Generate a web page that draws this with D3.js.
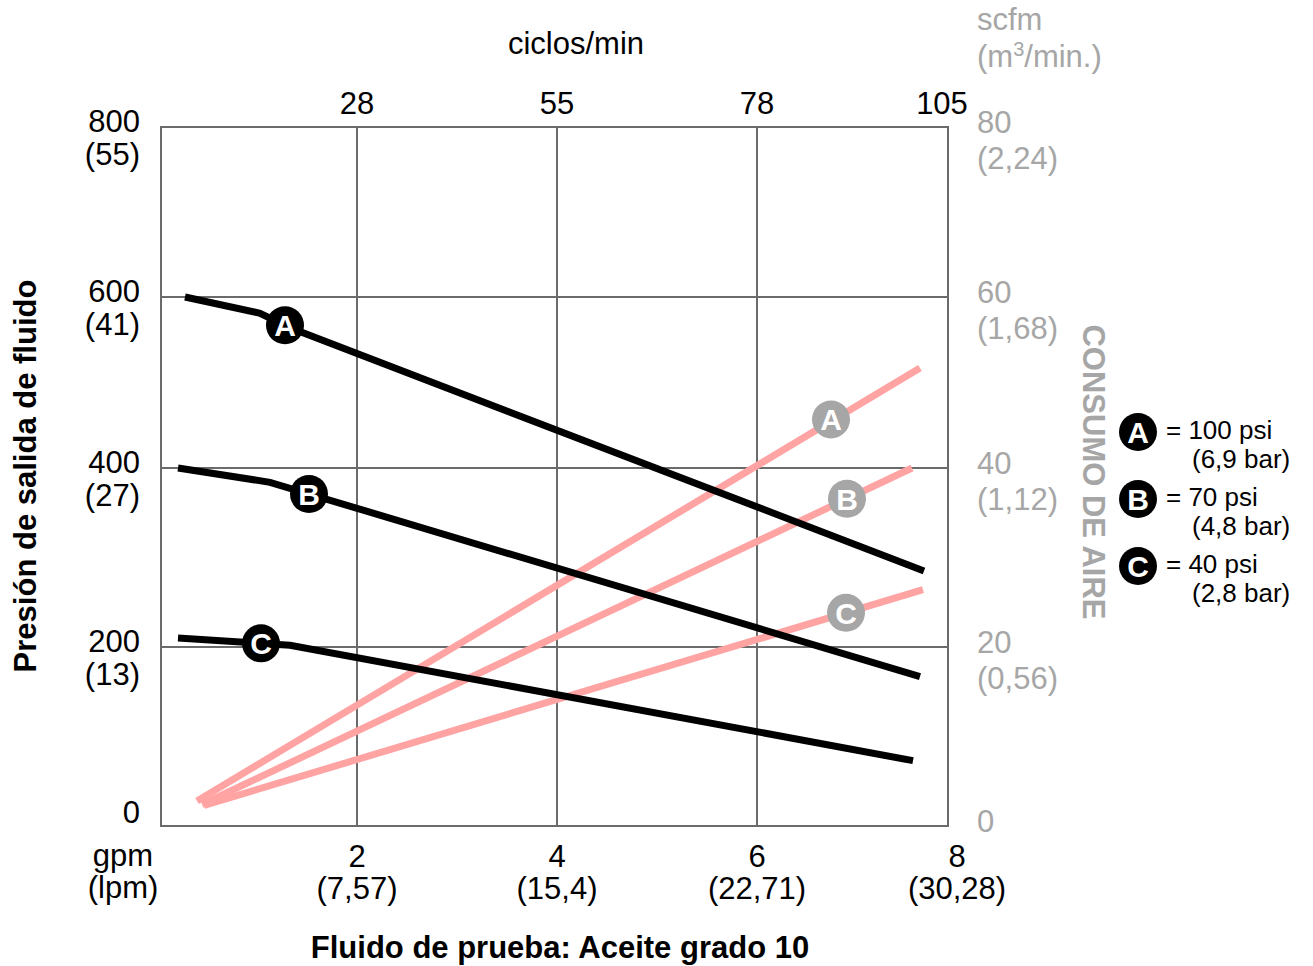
<!DOCTYPE html>
<html>
<head>
<meta charset="utf-8">
<script src="https://cdn.jsdelivr.net/npm/d3@7"></script>
<style>
  body { margin: 0; background: #fff; }
  text { font-family: "Liberation Sans", Arial, Helvetica, sans-serif; }
</style>
</head>
<body>
<svg width="1313" height="966"></svg>
<script>
// axis ticks and labels
var gpmTicks = [2, 4, 6, 8];
var lpmLabels = ["(7,57)", "(15,4)", "(22,71)", "(30,28)"];
var cycleLabels = ["28", "55", "78", "105"];
var psiTicks = [0, 200, 400, 600, 800];
var barLabels = ["", "(13)", "(27)", "(41)", "(55)"];
var scfmTicks = [0, 20, 40, 60, 80];
var m3Labels = ["", "(0,56)", "(1,12)", "(1,68)", "(2,24)"];

// fluid outlet pressure (psi) against flow (gpm)
var pressureA = [[0.28, 600], [1.03, 581], [1.35, 563], [7.67, 285]];
var pressureB = [[0.21, 400], [1.13, 384], [7.63, 167]];
var pressureC = [[0.21, 210], [1.33, 202], [7.56, 73]];

// air consumption (scfm) against flow (gpm)
var airA = [[0.40, 2.8], [7.63, 51.7]];
var airB = [[0.45, 2.4], [7.55, 40]];
var airC = [[0.47, 2.3], [7.66, 26.4]];

// where the letter badges sit on each curve (gpm)
var letters = ["A", "B", "C"];
var pressureMarkX = [1.28, 1.52, 1.04];
var airMarkX = [6.74, 6.90, 6.89];

var legendPsi = ["= 100 psi", "= 70 psi", "= 40 psi"];
var legendBar = ["(6,9 bar)", "(4,8 bar)", "(2,8 bar)"];

var svg = d3.select("svg"),
    width = +svg.attr("width"),
    height = +svg.attr("height");

var frame = {left: 161, right: 948, top: 127, bottom: 826};
var grey = "#a6a6a6", pink = "#ffa3a3", gridColor = "#6b6b6b";
var tickSize = 31;

var x = d3.scaleLinear().domain([0, 8]).range([157, 957]);
// gridlines in the original are not evenly spaced, so use a piecewise scale
var y = d3.scaleLinear().domain(psiTicks).range([826, 647, 468, 297, 127]);
var yAir = d3.scaleLinear().domain(scfmTicks).range(y.range());

var line = function(scale) {
  return d3.line().x(function(d) { return x(d[0]); }).y(function(d) { return scale(d[1]); });
};

// grid
var grid = svg.append("g").attr("stroke", gridColor).attr("stroke-width", 2);
grid.selectAll("line.v")
  .data(gpmTicks.slice(0, 3))
  .enter().append("line")
    .attr("x1", function(d) { return x(d); })
    .attr("x2", function(d) { return x(d); })
    .attr("y1", frame.top).attr("y2", frame.bottom);
grid.selectAll("line.h")
  .data(psiTicks.slice(1, 4))
  .enter().append("line")
    .attr("x1", frame.left).attr("x2", frame.right)
    .attr("y1", function(d) { return y(d); })
    .attr("y2", function(d) { return y(d); });
grid.append("rect")
    .attr("x", frame.left).attr("y", frame.top)
    .attr("width", frame.right - frame.left)
    .attr("height", frame.bottom - frame.top)
    .attr("fill", "none");

// curves
var curves = svg.append("g").attr("fill", "none").attr("stroke-width", 7);
[airA, airB, airC].forEach(function(d) {
  curves.append("path").datum(d).attr("stroke", pink).attr("d", line(yAir));
});
[pressureA, pressureB, pressureC].forEach(function(d) {
  curves.append("path").datum(d).attr("stroke", "#000").attr("d", line(y));
});

function valueAt(pts, gx) {
  for (var i = 1; i < pts.length; i++) {
    if (gx <= pts[i][0]) {
      var t = (gx - pts[i - 1][0]) / (pts[i][0] - pts[i - 1][0]);
      return pts[i - 1][1] + t * (pts[i][1] - pts[i - 1][1]);
    }
  }
  return pts[pts.length - 1][1];
}

function badge(g, cx, cy, letter, fill) {
  g.append("circle").attr("cx", cx).attr("cy", cy).attr("r", 19).attr("fill", fill);
  g.append("text")
      .attr("x", cx).attr("y", cy + 11)
      .attr("text-anchor", "middle")
      .attr("font-weight", "bold")
      .attr("font-size", 30)
      .attr("fill", "#fff")
      .text(letter);
}

var badges = svg.append("g");
[pressureA, pressureB, pressureC].forEach(function(d, i) {
  badge(badges, x(pressureMarkX[i]), y(valueAt(d, pressureMarkX[i])), letters[i], "#000");
});
[airA, airB, airC].forEach(function(d, i) {
  badge(badges, x(airMarkX[i]), yAir(valueAt(d, airMarkX[i])), letters[i], grey);
});

// left axis labels
var leftAxis = svg.append("g").attr("font-size", tickSize).attr("text-anchor", "end").attr("fill", "#000");
psiTicks.forEach(function(d, i) {
  leftAxis.append("text").attr("x", 140).attr("y", y(d) + (d == 0 ? -3 : 5)).text(d);
  if (barLabels[i]) leftAxis.append("text").attr("x", 140).attr("y", y(d) + 38).text(barLabels[i]);
});

// right axis labels
var rightAxis = svg.append("g").attr("font-size", tickSize).attr("fill", grey);
scfmTicks.forEach(function(d, i) {
  rightAxis.append("text").attr("x", 977).attr("y", yAir(d) + 6).text(d);
  if (m3Labels[i]) rightAxis.append("text").attr("x", 977).attr("y", yAir(d) + 42).text(m3Labels[i]);
});
rightAxis.append("text").attr("x", 977).attr("y", 30).text("scfm");
rightAxis.append("text").attr("x", 977).attr("y", 67)
    .html('(m<tspan dy="-11" font-size="20">3</tspan><tspan dy="11">/min.)</tspan>');

// bottom axis labels
var bottomAxis = svg.append("g").attr("font-size", tickSize).attr("text-anchor", "middle");
gpmTicks.forEach(function(d, i) {
  bottomAxis.append("text").attr("x", x(d)).attr("y", 867).text(d);
  bottomAxis.append("text").attr("x", x(d)).attr("y", 899).text(lpmLabels[i]);
});
bottomAxis.append("text").attr("x", 123).attr("y", 866).text("gpm");
bottomAxis.append("text").attr("x", 123).attr("y", 898).text("(lpm)");

// top axis labels (cycles per minute)
var topAxis = svg.append("g").attr("font-size", tickSize).attr("text-anchor", "middle");
gpmTicks.forEach(function(d, i) {
  var px = i == gpmTicks.length - 1 ? frame.right - 6 : x(d);
  topAxis.append("text").attr("x", px).attr("y", 114).text(cycleLabels[i]);
});
topAxis.append("text").attr("x", 576).attr("y", 54).text("ciclos/min");

// axis titles
svg.append("text")
    .attr("transform", "translate(36,476) rotate(-90)")
    .attr("text-anchor", "middle").attr("font-weight", "bold").attr("font-size", 31)
    .text("Presión de salida de fluido");
svg.append("text")
    .attr("transform", "translate(1083,472) rotate(90)")
    .attr("text-anchor", "middle").attr("font-weight", "bold").attr("font-size", 31)
    .attr("fill", grey)
    .text("CONSUMO DE AIRE");
svg.append("text")
    .attr("x", 560).attr("y", 958)
    .attr("text-anchor", "middle").attr("font-weight", "bold").attr("font-size", 31)
    .text("Fluido de prueba: Aceite grado 10");

// legend
var legend = svg.append("g").attr("font-size", 26);
letters.forEach(function(d, i) {
  var cy = 432 + i * 67;
  badge(legend, 1138, cy, d, "#000");
  legend.append("text").attr("x", 1166).attr("y", cy + 7).text(legendPsi[i]);
  legend.append("text").attr("x", 1192).attr("y", cy + 36).text(legendBar[i]);
});
</script>
</body>
</html>
